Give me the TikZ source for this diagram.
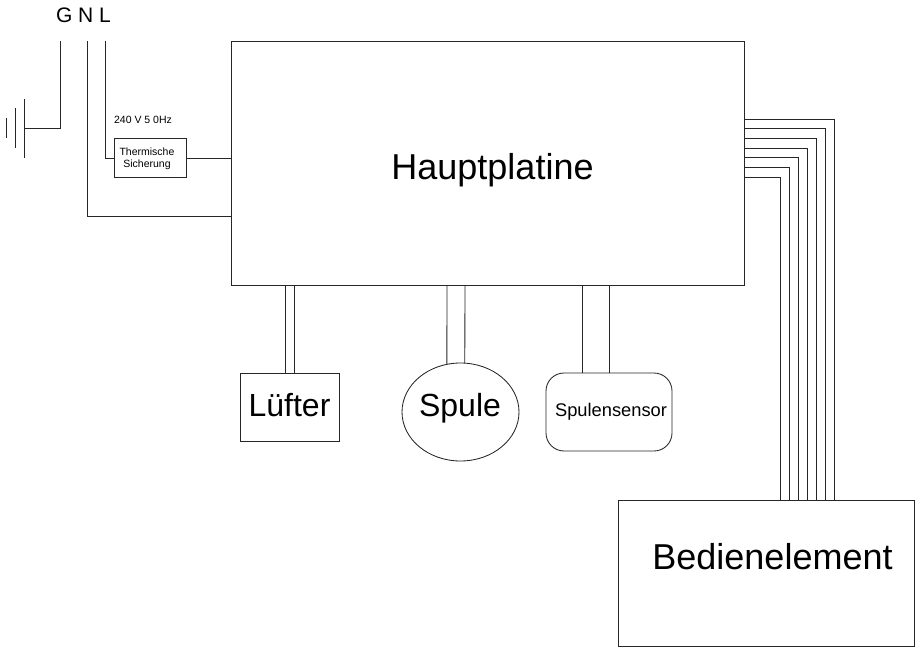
\documentclass[tikz,border=0pt]{standalone}
\usepackage{fontspec}
\setmainfont{Liberation Sans}
\usetikzlibrary{shapes.geometric}
\newcommand{\fsz}[1]{\fontsize{#1}{#1}\selectfont}
\tikzset{
  wire/.style={draw=black!85,line width=0.85pt},
  block/.style={draw=black!85,line width=0.85pt,fill=white,inner sep=0pt,outer sep=0pt,rectangle},
  txt/.style={inner sep=0pt,outer sep=0pt,anchor=base,text=black},
  term/.style={inner sep=0pt,outer sep=0pt,minimum size=0pt},
}
\begin{document}
\begin{tikzpicture}[x=1pt,y=-1pt]
\useasboundingbox (0,0) rectangle (915,647);
% blocks
\node[block,minimum width=513pt,minimum height=244pt] (main) at (487.5,163) {};
\node[block,minimum width=72pt,minimum height=39pt] (fuse) at (150,158) {};
\node[block,minimum width=99pt,minimum height=68pt] (fan) at (289.5,407) {};
\node[block,ellipse,minimum width=117pt,minimum height=98pt] (coil) at (460.5,412) {};
\node[block,rounded corners=18pt,minimum width=126pt,minimum height=78pt] (sensor) at (609,412) {};
\node[block,minimum width=296pt,minimum height=146pt] (panel) at (766,573) {};
% terminals and ground
\coordinate (G) at (60.5,41);
\coordinate (N) at (87.5,41);
\coordinate (L) at (105.5,41);
\coordinate (gndA1) at (24.5,99);
\coordinate (gndA2) at (24.5,158);
\coordinate (gndB1) at (15.3,108);
\coordinate (gndB2) at (15.3,148);
\coordinate (gndC1) at (6,118);
\coordinate (gndC2) at (6,138);
\coordinate (gndM) at (24.5,128.5);
\coordinate (neutral) at (231,216.5);
\draw[wire] (G) -- (G |- gndM) -- (gndM);
\draw[wire] (gndA1) -- (gndA2);
\draw[wire] (gndB1) -- (gndB2);
\draw[wire] (gndC1) -- (gndC2);
\draw[wire] (N) -- (N |- neutral) -- (neutral);
\draw[wire] (L) -- (L |- fuse.west) -- (fuse.west);
\draw[wire] (fuse.east) -- (main.west |- fuse.east);
% double connectors
\coordinate (fanA) at (285,285);
\coordinate (fanB) at (294,285);
\coordinate (coilA) at (447,285);
\coordinate (coilB) at (465,285);
\coordinate (sensA) at (582,285);
\coordinate (sensB) at (609,285);
\draw[wire] (fanA |- main.south) -- (fanA |- fan.north);
\draw[wire] (fanB |- main.south) -- (fanB |- fan.north);
\draw[wire] (coilA |- main.south) -- (coil.106);
\draw[wire] (coilB |- main.south) -- (coil.85);
\draw[wire] (sensA |- main.south) -- (sensA |- sensor.north);
\draw[wire] (sensB |- main.south) -- (sensB |- sensor.north);
% seven-wire bus
\foreach \i/\yy/\xx in {1/119/834,2/128.7/825,3/138.4/816,4/148/807,5/157.8/798,6/167.5/789,7/177.4/780}{
  \coordinate (bus\i) at (\xx,\yy);
  \draw[wire] (main.east |- bus\i) -- (bus\i) -- (bus\i |- panel.north);
}
% text
\node[txt] (tGNL) at (83.5,23) {\fsz{21}G N L};
\node[txt] (tV) at (143,124) {\fsz{10.5}240 V 5 0Hz};
\node[txt] (tF1) at (147,156) {\fsz{10.5}Thermische};
\node[txt] (tF2) at (147,168) {\fsz{10.5}Sicherung};
\node[txt] (tMain) at (492.5,179) {\fsz{36}Hauptplatine};
\node[txt] (tFan) at (289.5,416) {\fsz{32}Lüfter};
\node[txt] (tCoil) at (460,416) {\fsz{32}Spule};
\node[txt] (tSens) at (611,416) {\fsz{18.3}Spulensensor};
\node[txt] (tPanel) at (772.5,569) {\fsz{36}Bedienelement};
\end{tikzpicture}
\end{document}
